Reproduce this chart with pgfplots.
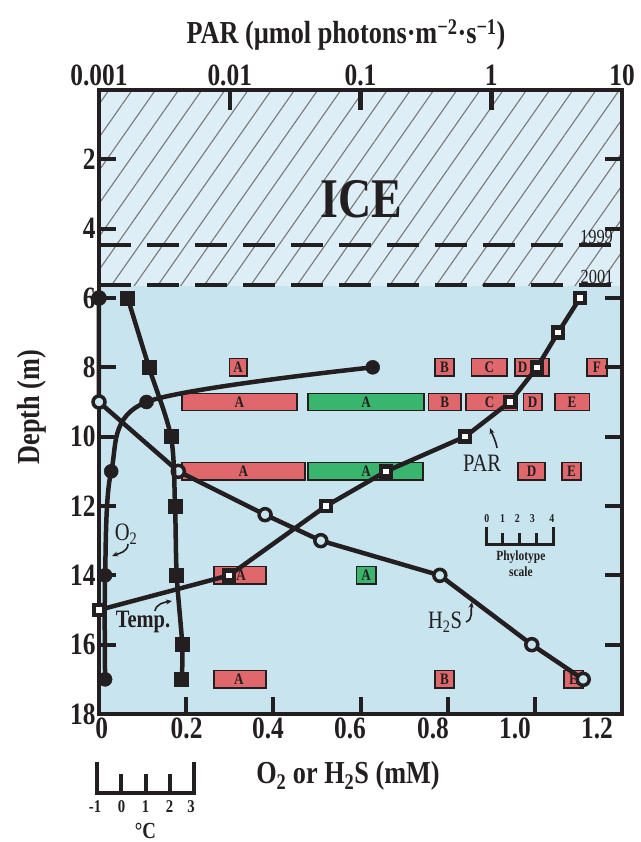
\documentclass[border=0pt]{standalone}
\usepackage{pgfplots}
\pgfplotsset{compat=1.18}
\usepackage{fontspec}
\setmainfont{Liberation Serif}[FakeStretch=0.82]
\usetikzlibrary{patterns.meta,arrows.meta}
\definecolor{water}{RGB}{200,228,238}
\definecolor{ice}{RGB}{221,238,246}
\definecolor{hatch}{RGB}{120,120,120}
\definecolor{pred}{RGB}{224,103,107}
\definecolor{pgreen}{RGB}{58,181,110}
\definecolor{ink}{RGB}{35,31,32}
% color, x1, x2, y1, y2, xc, yc, letter
\newcommand\pbox[8]{%
  \addplot[draw=ink, line width=1.6bp, fill=#1, forget plot] coordinates {(#2,#4) (#3,#4) (#3,#5) (#2,#5)} -- cycle;
  \node[font=\fontsize{16bp}{16bp}\selectfont\bfseries, text=ink, inner sep=0pt] at (axis cs:#6,#7) {#8};
}
\tikzset{sm/.style={font=\fontsize{12bp}{12bp}\selectfont\bfseries, text=ink, inner sep=0pt},
         tl/.style={font=\fontsize{18bp}{18bp}\selectfont\bfseries, text=ink, inner sep=0pt},
         ph/.style={font=\fontsize{14bp}{14bp}\selectfont\bfseries, text=ink, inner sep=0pt}}
\begin{document}
\begin{tikzpicture}[x=1bp,y=1bp]
\useasboundingbox (-99,-128) rectangle (542,714);
% ---------------- main axis (O2 / H2S) ----------------
\begin{axis}[
  at={(0,0)}, anchor=south west,
  width=523bp, height=624bp, scale only axis,
  xmin=0, xmax=1.2, ymin=0, ymax=18, y dir=reverse,
  axis background/.style={fill=water},
  axis on top,
  axis line style={line width=4.5bp, draw=ink},
  xtick={0.2,0.4,0.6,0.8,1.0}, xticklabels={},
  extra x ticks={0.0062,0.2010,0.3878,0.5760,0.7664,0.9546,1.1427},
  extra x tick labels={0,0.2,0.4,0.6,0.8,1.0,1.2},
  extra x tick style={tick style={draw=none}},
  xtick pos=bottom,
  ytick={2,4,6,8,10,12,14,16,18}, yticklabels={2,4,6,8,10,12,14,16,18},
  ytick pos=both, yticklabel pos=left,
  tick align=inside, major tick length=17bp,
  tick style={line width=4bp, draw=ink},
  ticklabel style={font=\fontsize{31bp}{31bp}\selectfont\bfseries, text=ink},
  clip=false,
]
% ice
\addplot[draw=none, fill=ice, forget plot] coordinates {(0,0) (1.2,0) (1.2,5.65) (0,5.65)} -- cycle;
\addplot[draw=none, pattern={Lines[angle=55,distance=19bp,line width=1.1bp]}, pattern color=hatch, forget plot]
  coordinates {(0,0) (1.2,0) (1.2,5.65) (0,5.65)} -- cycle;
\addplot[draw=ink, line width=4.5bp, dash pattern=on 32bp off 16bp, forget plot] coordinates {(0,4.47) (1.2,4.47)};
\addplot[draw=ink, line width=4.5bp, dash pattern=on 32bp off 16bp, forget plot] coordinates {(0,5.62) (1.2,5.62)};
% phylotype boxes
% row 8
\pbox{pred}{0.299}{0.339}{7.75}{8.25}{0.319}{8}{A}
\pbox{pred}{0.771}{0.815}{7.75}{8.25}{0.793}{8}{B}
\pbox{pred}{0.855}{0.936}{7.75}{8.25}{0.8955}{8}{C}
\pbox{pred}{0.955}{1.033}{7.75}{8.25}{0.972}{8}{D}
\pbox{pred}{1.120}{1.165}{7.75}{8.25}{1.1425}{8}{F}
% row 9
\pbox{pred}{0.190}{0.454}{8.75}{9.25}{0.322}{9}{A}
\pbox{pgreen}{0.480}{0.746}{8.75}{9.25}{0.613}{9}{A}
\pbox{pred}{0.756}{0.831}{8.75}{9.25}{0.7935}{9}{B}
\pbox{pred}{0.842}{0.960}{8.75}{9.25}{0.896}{9}{C}
\pbox{pred}{0.974}{1.016}{8.75}{9.25}{0.995}{9}{D}
\pbox{pred}{1.046}{1.125}{8.75}{9.25}{1.0855}{9}{E}
% row 11
\pbox{pred}{0.190}{0.473}{10.75}{11.25}{0.3315}{11}{A}
\pbox{pgreen}{0.480}{0.743}{10.75}{11.25}{0.613}{11}{A}
\pbox{pred}{0.962}{1.023}{10.75}{11.25}{0.9925}{11}{D}
\pbox{pred}{1.062}{1.106}{10.75}{11.25}{1.084}{11}{E}
% row 14
\pbox{pred}{0.264}{0.383}{13.75}{14.25}{0.326}{14}{A}
\pbox{pgreen}{0.591}{0.635}{13.75}{14.25}{0.613}{14}{A}
% row 17
\pbox{pred}{0.264}{0.383}{16.75}{17.25}{0.321}{17}{A}
\pbox{pred}{0.771}{0.815}{16.75}{17.25}{0.793}{17}{B}
\pbox{pred}{1.067}{1.110}{16.75}{17.25}{1.0885}{17}{E}
% H2S
\addplot[draw=ink, line width=4.5bp, mark=*, mark size=6bp,
  mark options={fill=water, draw=ink, line width=3.5bp}]
  coordinates {(0,6) (0,9) (0.182,11) (0.381,12.25) (0.509,13) (0.782,14) (0.993,16) (1.111,17)};
% O2
\addplot[draw=ink, line width=4.5bp, smooth, mark=*, mark size=7bp, mark options={fill=ink, draw=ink, line width=0.5bp}]
  coordinates {(0.628,8) (0.109,9) (0.028,11) (0.014,14) (0.014,17)};
\addplot[only marks, mark=*, mark size=7bp, mark options={fill=ink, draw=ink}] coordinates {(0,6)};
% phylotype scale
\draw[ink, line width=3bp] (axis cs:0.888,12.6) -- (axis cs:0.888,13.12) -- (axis cs:1.042,13.12) -- (axis cs:1.042,12.6);
\draw[ink, line width=3bp] (axis cs:0.9265,13.12) -- (axis cs:0.9265,12.78);
\draw[ink, line width=3bp] (axis cs:0.965,13.12) -- (axis cs:0.965,12.78);
\draw[ink, line width=3bp] (axis cs:1.0035,13.12) -- (axis cs:1.0035,12.78);
\node[sm] at (axis cs:0.890,12.37) {0};
\node[sm] at (axis cs:0.926,12.37) {1};
\node[sm] at (axis cs:0.960,12.37) {2};
\node[sm] at (axis cs:0.994,12.37) {3};
\node[sm] at (axis cs:1.039,12.37) {4};
\node[ph] at (axis cs:0.968,13.47) {Phylotype};
\node[ph] at (axis cs:0.968,13.90) {scale};
\end{axis}
% ---------------- PAR axis (log, top) ----------------
\begin{axis}[
  at={(0,0)}, anchor=south west,
  width=523bp, height=624bp, scale only axis,
  xmode=log, xmin=0.001, xmax=10, ymin=0, ymax=18, y dir=reverse,
  axis x line*=top, axis y line=none,
  axis line style={line width=4.5bp, draw=ink, -},
  xtick={0.001,0.01,0.1,1,10}, xticklabels={0.001,0.01,0.1,1,10},
  xminorticks=false,
  major tick length=0pt,
  ticklabel style={font=\fontsize{31bp}{31bp}\selectfont\bfseries, text=ink},
  xticklabel style={yshift=1bp},
  clip=false,
]
\addplot[draw=ink, line width=4.5bp, mark=square*, mark size=5bp,
  mark options={fill=white, draw=ink, line width=4.5bp}]
  coordinates {(4.77,6) (3.24,7) (2.24,8) (1.39,9) (0.63,10) (0.157,11) (0.0545,12) (0.0099,14) (0.001,15)};
\end{axis}
% ---------------- Temperature axis ----------------
\begin{axis}[
  at={(0,0)}, anchor=south west,
  width=523bp, height=624bp, scale only axis,
  xmin=-0.9375, xmax=20.854, ymin=0, ymax=18, y dir=reverse,
  hide axis, clip=false,
]
\addplot[draw=ink, line width=4.5bp, smooth, mark=square*, mark size=7bp, mark options={fill=ink, draw=ink, line width=0.5bp}]
  coordinates {(0.258,6) (1.146,8) (2.06,10) (2.23,12) (2.30,14) (2.53,16) (2.51,17)};
% temperature scale bar
\draw[ink, line width=4bp] (axis cs:-1,19.38) -- (axis cs:-1,20.28) -- (axis cs:3,20.28) -- (axis cs:3,19.38);
\draw[ink, line width=4bp] (axis cs:0,20.28) -- (axis cs:0,19.73);
\draw[ink, line width=4bp] (axis cs:1,20.28) -- (axis cs:1,19.73);
\draw[ink, line width=4bp] (axis cs:2,20.28) -- (axis cs:2,19.73);
\node[tl] at (axis cs:-1.1,20.66) {-1};
\node[tl] at (axis cs:0,20.66) {0};
\node[tl] at (axis cs:1,20.66) {1};
\node[tl] at (axis cs:2,20.66) {2};
\node[tl] at (axis cs:2.9,20.66) {3};
\node[font=\fontsize{23bp}{23bp}\selectfont\bfseries, text=ink, inner sep=0pt] at (axis cs:1,21.36) {°C};
\end{axis}
% top tick marks of the PAR scale (0.01, 0.1, 1)
\draw[ink, line width=4.5bp] (130.75,624) -- (130.75,604);
\draw[ink, line width=4.5bp] (261.5,624) -- (261.5,604);
\draw[ink, line width=4.5bp] (392.25,624) -- (392.25,604);
% ---------------- texts ----------------
\node[font=\fontsize{32bp}{32bp}\selectfont\bfseries, text=ink, anchor=base, inner sep=0pt] at (247,670)
  {PAR (µmol photons·m\textsuperscript{−2}·s\textsuperscript{−1})};
\node[font=\fontsize{32bp}{32bp}\selectfont\bfseries, text=ink, rotate=90, inner sep=0pt] at (-67,307) {Depth (m)};
\node[font=\fontsize{32bp}{32bp}\selectfont\bfseries, text=ink, inner sep=0pt] at (249,-62) {O\textsubscript{2} or H\textsubscript{2}S (mM)};
\node[font=\fontsize{56bp}{56bp}\selectfont\bfseries, text=ink, inner sep=0pt] at (262,515) {ICE};
\node[font=\fontsize{20bp}{20bp}\selectfont, text=ink, inner sep=0pt] at (497.5,477.5) {1999};
\node[font=\fontsize{20bp}{20bp}\selectfont, text=ink, inner sep=0pt] at (498,437.5) {2001};
\node[font=\fontsize{25bp}{25bp}\selectfont, text=ink, inner sep=0pt] at (383,251) {PAR};
\node[font=\fontsize{25bp}{25bp}\selectfont, text=ink, inner sep=0pt] at (27,180) {O\textsubscript{2}};
\node[font=\fontsize{25bp}{25bp}\selectfont\bfseries, text=ink, inner sep=0pt] at (44,92) {Temp.};
\node[font=\fontsize{25bp}{25bp}\selectfont, text=ink, inner sep=0pt] at (346,92) {H\textsubscript{2}S};
% arrows
\draw[ink, line width=1.6bp, -{Stealth[length=6bp,width=5bp]}] (398,266) to[out=100,in=-70] (391,286);
\draw[ink, line width=1.6bp, -{Stealth[length=6bp,width=5bp]}] (29,170) to[out=-90,in=20] (13,158);
\draw[ink, line width=1.6bp, -{Stealth[length=6bp,width=5bp]}] (56,103) to[out=80,in=190] (73,113);
\draw[ink, line width=1.6bp, -{Stealth[length=6bp,width=5bp]}] (367,92) to[out=20,in=-100] (373,112);
\end{tikzpicture}
\end{document}
